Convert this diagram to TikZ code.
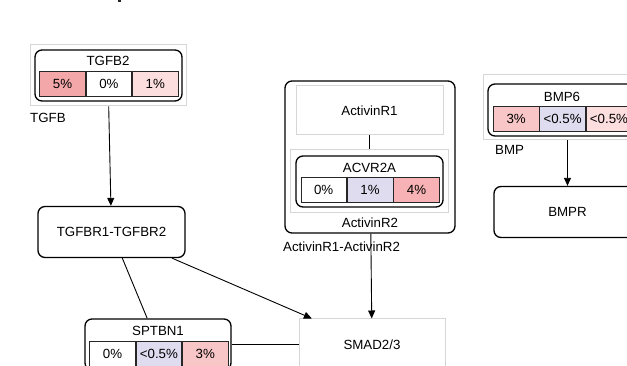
\documentclass[tikz,border=0pt]{standalone}
\usepackage{fontspec}
\setmainfont{Liberation Sans}
\usetikzlibrary{arrows.meta}
\definecolor{cA}{HTML}{F3A7A9}
\definecolor{cB}{HTML}{FDDEDF}
\definecolor{cC}{HTML}{DEDCEE}
\definecolor{cD}{HTML}{F6B2B4}
\definecolor{cE}{HTML}{F8C6C7}
\definecolor{gline}{HTML}{D6D6D6}
\begin{document}
\begin{tikzpicture}[x=1pt,y=-1pt,
  font=\fontsize{13.3}{15}\selectfont,
  cell/.style={draw=black!85, line width=0.7pt, minimum width=45.7pt, minimum height=25pt, inner sep=0pt, anchor=north west},
  rbox/.style={draw=black, line width=1.3pt, rounded corners=7pt, inner sep=0pt},
  gbox/.style={draw=gline, line width=1pt, inner sep=0pt},
  conn/.style={draw=black, line width=0.9pt},
  arr/.style={conn, -{Triangle[length=8pt,width=7pt]}},
  lbl/.style={anchor=west, inner sep=0pt},
  ttl/.style={inner sep=0pt}]
\useasboundingbox (0,0) rectangle (627,366);
\clip (0,0) rectangle (627,366);
\fill[black!85] (117.5,0) rectangle (121,2.5);

% TGFB group
\node[gbox, minimum width=156pt, minimum height=61pt] (tgfbg) at (108,75.5) {};
\node[rbox, minimum width=147pt, minimum height=51pt] (tgfbin) at (108.5,75.5) {};
\node[ttl] (tgfbt) at (108,61) {TGFB2};
\node[cell, fill=cA] (t1) at (39.3,71.5) {5\%};
\node[cell] (t2) at (t1.north east) {0\%};
\node[cell, fill=cB] (t3) at (t2.north east) {1\%};
\node[lbl] (tgfbl) at (30,118) {TGFB};

% TGFBR
\node[rbox, minimum width=147pt, minimum height=51pt] (tgfbr) at (111.5,232) {TGFBR1-TGFBR2};

% SPTBN1
\node[rbox, minimum width=146pt, minimum height=51pt] (sptbn) at (158,344.5) {};
\node[ttl] (spt) at (158,330.5) {SPTBN1};
\node[cell] (s1) at (89.3,341) {0\%};
\node[cell, fill=cC] (s2) at (s1.north east) {<0.5\%};
\node[cell, fill=cE] (s3) at (s2.north east) {3\%};

% SMAD
\node[gbox, minimum width=146pt, minimum height=51pt] (smad) at (372,344.5) {SMAD2/3};

% Activin group
\node[rbox, minimum width=170pt, minimum height=152pt] (actg) at (370,157) {};
\node[gbox, minimum width=147pt, minimum height=49pt] (ar1) at (369.5,110.5) {ActivinR1};
\node[gbox, minimum width=158pt, minimum height=63pt] (ar2g) at (369.5,181.5) {};
\node[rbox, minimum width=147pt, minimum height=51pt] (ar2in) at (369.5,181.5) {};
\node[ttl] (acvt) at (369.5,168) {ACVR2A};
\node[cell] (a1) at (300.5,177) {0\%};
\node[cell, fill=cC] (a2) at (a1.north east) {1\%};
\node[cell, fill=cD] (a3) at (a2.north east) {4\%};
\node[ttl] (ar2l) at (370,223) {ActivinR2};
\node[lbl] (actl) at (283,246.5) {ActivinR1-ActivinR2};

% BMP group
\node[gbox, minimum width=157pt, minimum height=65pt] (bmpg) at (561.5,107.5) {};
\node[rbox, minimum width=147pt, minimum height=52pt] (bmpin) at (561.5,110) {};
\node[ttl] (bmpt) at (562,96.5) {BMP6};
\node[cell, fill=cE] (b1) at (493,106) {3\%};
\node[cell, fill=cC] (b2) at (b1.north east) {<0.5\%};
\node[cell, fill=cB] (b3) at (b2.north east) {<0.5\%};
\node[lbl] (bmpl) at (495,150) {BMP};
\node[rbox, minimum width=147pt, minimum height=51pt] (bmpr) at (567.5,212) {BMPR};

% connectors
\draw[conn] (ar1) -- (ar2g);
\draw[arr] (tgfbg) -- (tgfbr);
\draw[conn] (tgfbr) -- (sptbn);
\draw[arr] (tgfbr) -- (smad);
\draw[conn] (sptbn) -- (smad);
\draw[arr] (actg) -- (smad);
\draw[arr] (bmpg.south -| bmpr) -- (bmpr);
\end{tikzpicture}
\end{document}
